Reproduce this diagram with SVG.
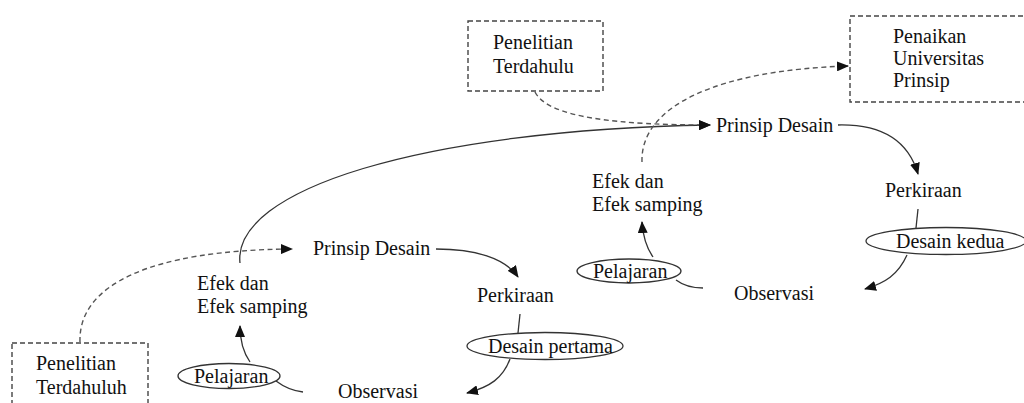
<svg xmlns="http://www.w3.org/2000/svg" width="1024" height="403" viewBox="0 0 1024 403">
<style>
text{font-family:"Liberation Serif","Times New Roman",serif;font-size:20px;fill:#111}
.box{fill:#fff;stroke:#444;stroke-width:1.4;stroke-dasharray:5 3}
.ell{fill:#fff;stroke:#333;stroke-width:1.3}
.ln{fill:none;stroke:#333;stroke-width:1.3}
.dl{fill:none;stroke:#555;stroke-width:1.4;stroke-dasharray:5 3.5}
</style>
<defs>
<marker id="ah" markerWidth="12" markerHeight="10" refX="11" refY="5" orient="auto" markerUnits="userSpaceOnUse">
<path d="M0,0 L12,5 L0,10 Z" fill="#111"/>
</marker>
</defs>
<rect width="1024" height="403" fill="#fff"/>
<g id="connectors">
<path class="dl" d="M80,342 C78,285 150,250 292,249" marker-end="url(#ah)"/>
<path class="ln" d="M240,263 C232,190 420,130 710,125" marker-end="url(#ah)"/>
<path class="dl" d="M535,92 C548,118 620,125 710,125" marker-end="url(#ah)"/>
<path class="dl" d="M642,162 C640,105 720,70 848,66" marker-end="url(#ah)"/>
<path class="ln" d="M838,125 C880,124 908,140 918,174" marker-end="url(#ah)"/>
<path class="ln" d="M918,209 L916,228"/>
<path class="ln" d="M907,255 C898,275 885,283 865,289" marker-end="url(#ah)"/>
<path class="ln" d="M676,280 C684,286 694,288 703,288"/>
<path class="ln" d="M653,257 C646,247 643,237 642,222" marker-end="url(#ah)"/>
<path class="ln" d="M436,249 C475,249 505,258 518,277" marker-end="url(#ah)"/>
<path class="ln" d="M520,314 L518,333"/>
<path class="ln" d="M510,359 C503,378 490,387 467,393" marker-end="url(#ah)"/>
<path class="ln" d="M276,381 C284,387 294,391 303,392"/>
<path class="ln" d="M250,362 C243,352 240,340 240,326" marker-end="url(#ah)"/>
</g>
<g id="penelitian-top">
<rect class="box" x="468" y="21" width="135" height="70"/>
<text x="493" y="49">Penelitian</text>
<text x="493" y="73">Terdahulu</text>
</g>
<g id="penaikan">
<rect class="box" x="850" y="16" width="190" height="86"/>
<text x="893" y="43">Penaikan</text>
<text x="893" y="65">Universitas</text>
<text x="893" y="87">Prinsip</text>
</g>
<g id="prinsip2"><text x="716" y="132">Prinsip Desain</text></g>
<g id="perkiraan2"><text x="885" y="197">Perkiraan</text></g>
<g id="desain-kedua">
<ellipse class="ell" cx="946" cy="241" rx="80" ry="13.5"/>
<text x="896" y="248">Desain kedua</text>
</g>
<g id="observasi2"><text x="734" y="300">Observasi</text></g>
<g id="pelajaran2">
<ellipse class="ell" cx="629" cy="271" rx="52" ry="12"/>
<text x="593" y="278">Pelajaran</text>
</g>
<g id="efek2">
<text x="592" y="188">Efek dan</text>
<text x="592" y="211">Efek samping</text>
</g>
<g id="prinsip1"><text x="313" y="255">Prinsip Desain</text></g>
<g id="efek1">
<text x="197" y="290">Efek dan</text>
<text x="197" y="313">Efek samping</text>
</g>
<g id="perkiraan1"><text x="477" y="302">Perkiraan</text></g>
<g id="desain-pertama">
<ellipse class="ell" cx="545" cy="346" rx="78" ry="13.5"/>
<text x="488" y="353">Desain pertama</text>
</g>
<g id="observasi1"><text x="338" y="398">Observasi</text></g>
<g id="pelajaran1">
<ellipse class="ell" cx="229" cy="376" rx="51" ry="12.5"/>
<text x="194" y="383">Pelajaran</text>
</g>
<g id="penelitian-bottom">
<rect class="box" x="12" y="343" width="136" height="75"/>
<text x="36" y="370">Penelitian</text>
<text x="36" y="394">Terdahuluh</text>
</g>
</svg>
